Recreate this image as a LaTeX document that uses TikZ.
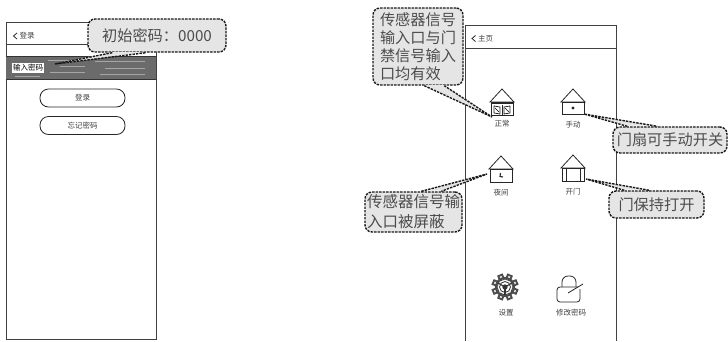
\documentclass[tikz,border=0pt]{standalone}
\usepackage{fontspec}
\setmainfont{Noto Sans CJK SC}
\usetikzlibrary{calc}
\definecolor{notegray}{gray}{0.9}
\tikzset{
	screenline/.style={line width=1pt, color=black!75},
	iconline/.style={line width=0.8pt, color=black!85},
	smalltext/.style={font=\fontsize{7.5}{9}\selectfont, text=black!75, inner sep=0pt},
	notebox/.style={draw=black!90, fill=notegray, line width=1.4pt, dash pattern=on 2.4pt off 1.1pt, rounded corners=7pt, font=\fontsize{15.2}{18}\selectfont, text=black!70, inner sep=0pt, align=left},
	pillbox/.style={draw=black!85, line width=0.8pt, fill=white, rounded corners=8.5pt, minimum width=85pt, minimum height=18pt, smalltext},
	housecap/.style={smalltext}
}
\def\tailnote#1#2#3#4{
	\fill[notegray] ($(#1)+(#2,-0.8)$) -- (#4) -- ($(#1)+(#3,-0.8)$) -- cycle;
	\draw[line width=1.4pt, color=black!90, dash pattern=on 2.4pt off 1.1pt] ($(#1)+(#2,0)$) -- (#4) -- ($(#1)+(#3,0)$);
}
\def\housetop#1#2#3{\draw[iconline] (#1-12, #2+13) -- (#1, #2) -- (#1+12, #2+13) -- cycle; \draw[iconline] (#1-11, #2+13) rectangle (#1+11, #2+#3);}
\begin{document}
\begin{tikzpicture}[x=1pt, y=-1pt]
	\useasboundingbox (0, 0) rectangle (728, 341);
	
	%%%%% login screen %%%%%
	\draw[screenline] (6, 22.5) rectangle (156, 339);
	\draw[screenline] (6, 44) -- (156, 44);
	\draw[iconline] (17, 33) -- (13.5, 36) -- (17, 39);
	\node[smalltext, anchor=west] (logintitle) at (19.5, 36) {登录};
	
	\fill[black!58] (6, 56) rectangle (156, 79);
	\draw[line width=0.7pt, black!80] (6, 56) -- (156, 56);
	\draw[line width=0.7pt, black!80] (6, 79) -- (156, 79);
	\foreach \x/\y/\l in {48/60/30, 95/61/50, 60/66/25, 105/68/40, 50/72/35, 100/74/45, 15/76/25} {
		\draw[line width=0.3pt, black!35] (\x, \y) -- (\x+\l, \y);
	}
	\node[smalltext, fill=white, text=black, minimum width=32pt, minimum height=10pt] (pwdinput) at (28, 68) {输入密码};
	
	\node[pillbox] (loginbtn) at (82.5, 98) {登录};
	\node[pillbox] (forgotbtn) at (82.5, 125.5) {忘记密码};
	
	%%%%% main screen %%%%%
	\draw[screenline] (465, 341) -- (465, 25) -- (616, 25) -- (616, 341);
	\draw[screenline] (465, 48) -- (616, 48);
	\draw[iconline] (475.5, 35.5) -- (472, 38.5) -- (475.5, 41.5);
	\node[smalltext, anchor=west] (maintitle) at (478, 38.5) {主页};
	
	% normal
	\housetop{502}{89}{26}
	\draw[line width=1.4pt, black!85] (491, 103) -- (513, 103);
	\draw[iconline] (502, 105) -- (502, 115);
	\draw[iconline] (494, 106) -- (500, 107) -- (500, 114) -- (494, 113) -- cycle;
	\draw[iconline] (510, 106) -- (504, 107) -- (504, 114) -- (510, 113) -- cycle;
	\draw[line width=0.5pt] (495, 108) -- (499, 112);
	\draw[line width=0.5pt] (505, 108) -- (509, 112);
	\node[housecap] (normalcap) at (502, 124) {正常};
	
	% manual
	\housetop{573}{89}{25}
	\fill[black!85] (573, 108) circle (1.6);
	\node[housecap] (manualcap) at (573, 125) {手动};
	
	% night
	\housetop{501}{156}{26}
	\draw[line width=1.2pt, black!85] (490, 169.5) -- (512, 169.5);
	\draw[line width=1.1pt, black!85] (500.5, 173) -- (500, 176.5) -- (503, 177);
	\node[housecap] (nightcap) at (501, 193) {夜间};
	
	% open
	\housetop{573}{155}{26}
	\draw[line width=1.2pt, black!85] (562, 168.5) -- (584, 168.5);
	\draw[iconline] (566, 168) -- (566, 181);
	\draw[iconline] (580, 168) -- (580, 181);
	\node[housecap] (opencap) at (573, 192) {开门};
	
	% settings
	\foreach \a in {0, 45, ..., 315} {
		\fill[black!70, rotate around={\a+22.5:(505, 287)}] (502, 273.5) rectangle (508, 280);
		\fill[white, rotate around={\a+22.5:(505, 287)}] (504, 275.5) rectangle (506, 279);
	}
	\draw[line width=2.2pt, black!70] (505, 287) circle (9);
	\draw[line width=0.8pt, black!80] (505, 287) circle (5.5);
	\draw[line width=1.2pt, black!80] (505, 287) circle (2);
	\foreach \a in {90, 210, 330} {
		\draw[line width=1.1pt, black!80] (505, 287) -- ++(\a:8);
	}
	\node[housecap] (settingscap) at (506, 313) {设置};
	
	% change password
	\draw[iconline, rounded corners=3pt] (580, 289) -- (580, 302) -- (557, 302) -- (557, 287) -- (578, 287);
	\draw[iconline, rounded corners=6pt] (562, 287) -- (562, 276) -- (576, 276) -- (576, 287);
	\draw[iconline] (568, 293) -- (583, 284);
	\node[housecap] (changecap) at (571, 313) {修改密码};
	
	%%%%% notes %%%%%
	\node[notebox, minimum width=138pt, minimum height=33pt] (pwdnote) at (157, 35.5) {初始密码：0000};
	\coordinate (pwdtip) at (55, 64);
	\tailnote{pwdnote.south west}{25}{59}{pwdtip}
	
	\node[notebox, minimum width=90pt, minimum height=77pt] (normalnote) at (418, 46.5) {传感器信号\\输入口与门\\禁信号输入\\口均有效};
	\coordinate (normaltip) at (492, 117);
	\tailnote{normalnote.south west}{52}{72}{normaltip}
	
	\node[notebox, minimum width=114pt, minimum height=26pt] (manualnote) at (670, 140) {门扇可手动开关};
	\coordinate (manualtip) at (584, 114);
	\tailnote{manualnote.north west}{15}{45}{manualtip}
	
	\node[notebox, minimum width=95pt, minimum height=27pt] (opennote) at (656.5, 204.5) {门保持打开};
	\coordinate (opentip) at (586, 179);
	\tailnote{opennote.north west}{16}{41}{opentip}
	
	\node[notebox, minimum width=97pt, minimum height=40pt, font=\fontsize{15.5}{20}\selectfont] (nightnote) at (413.5, 212) {传感器信号输\\入口被屏蔽};
	\coordinate (nighttip) at (487, 174);
	\tailnote{nightnote.north west}{57}{77}{nighttip}
\end{tikzpicture}
\end{document}
